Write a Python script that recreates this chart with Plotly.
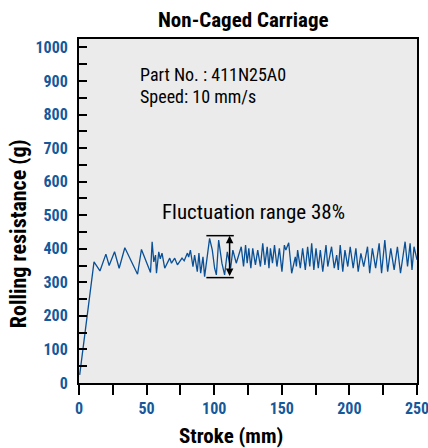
import plotly.graph_objects as go

# ---- data ----
stroke_mm = [
    0.5, 11.1, 15.5, 19.9, 22.3, 26.3, 29.7, 33.9, 43.3, 46.2, 52.9, 54.1, 55.3, 56.6,
    57.3, 59.0, 60.1, 61.4, 63.4, 67.1, 68.4, 70.8, 72.8, 76.2, 77.8, 80.2, 81.1, 82.4,
    84.3, 85.5, 87.5, 88.7, 90.0, 91.7, 92.9, 95.4, 96.6, 98.6, 100.3, 101.6, 103.3,
    105.7, 107.7, 109.7, 112.1, 113.8, 116.3,
    120.0, 121.7, 123.2, 124.4, 125.6, 127.1, 128.5, 130.5, 132.2, 134.2, 135.9, 137.5,
    139.2, 140.5, 141.6, 143.1, 144.6, 146.4, 148.2, 150.1, 151.9, 153.0, 155.1, 157.3,
    160.0, 160.8, 161.7, 163.7, 165.4, 167.4, 169.1, 170.7, 172.1, 173.7, 175.3, 177.0,
    178.5, 180.3, 182.7, 184.0, 186.8, 188.8, 190.6, 191.8, 193.2, 195.1, 196.7, 198.8,
    200.6, 202.8, 204.8, 206.5, 208.5, 210.6, 213.4, 215.0, 217.0, 219.4, 222.0, 223.8,
    226.2, 228.3, 230.6, 233.1, 235.5, 237.8, 241.2, 243.0, 244.9, 246.3, 247.8, 250.0,
]
resistance_g = [
    24, 361, 334, 384, 350, 391, 342, 403, 324, 398, 329, 421, 361, 381,
    327, 391, 370, 387, 342, 372, 357, 372, 352, 372, 364, 387, 375, 396,
    347, 381, 332, 387, 327, 376, 317, 396, 431, 396, 342, 322, 426,
    357, 322, 391, 342, 396, 357,
    406, 347, 411, 357, 401, 342, 401, 352, 396, 347, 416, 352,
    406, 342, 401, 357, 411, 347, 401, 332, 411, 396, 418, 327,
    376, 347, 396, 342, 401, 337, 406, 347, 416, 337, 401, 342,
    396, 332, 411, 347, 406, 342, 381, 337, 411, 332, 396, 347,
    406, 342, 401, 332, 386, 347, 406, 327, 401, 342, 416, 327,
    426, 332, 401, 337, 406, 327, 421, 347, 416, 337, 406, 367,
]

y_tick_values = list(range(0, 1001, 50))
y_tick_labels = [str(v) if v % 100 == 0 else "" for v in y_tick_values]
x_tick_values = list(range(0, 251, 25))
x_tick_labels = [str(v) if v % 50 == 0 else "" for v in x_tick_values]

fluct_top = 439
fluct_bottom = 314
fluct_x0 = 94.2
fluct_x1 = 114.5
fluct_arrow_x = 111.4

FONT = "Liberation Sans Narrow, Roboto Condensed, Arial Narrow, Liberation Sans, sans-serif"
BLUE = "#15599b"
LINE = "#0a5096"

fig = go.Figure()
fig.add_trace(go.Scatter(
    x=stroke_mm, y=resistance_g, mode="lines",
    line=dict(color=LINE, width=1.3), hoverinfo="skip", showlegend=False,
))

# fluctuation range markers
for yv in (fluct_top, fluct_bottom):
    fig.add_shape(type="line", xref="x", yref="y", x0=fluct_x0, x1=fluct_x1,
                  y0=yv, y1=yv, line=dict(color="black", width=1.5))
fig.add_annotation(x=fluct_arrow_x, y=fluct_top, ax=fluct_arrow_x, ay=fluct_bottom,
                   xref="x", yref="y", axref="x", ayref="y", text="",
                   showarrow=True, arrowhead=2, startarrowhead=2, arrowside="end+start",
                   arrowsize=1, arrowwidth=1.5, arrowcolor="black",
                   startstandoff=0, standoff=0)

def label(text, x, y, size, xanchor="center", bold=False, angle=0):
    fig.add_annotation(x=x, y=y, xref="paper", yref="paper", xanchor=xanchor,
                       yanchor="middle", textangle=angle,
                       text=f"<b>{text}</b>" if bold else text, showarrow=False,
                       font=dict(family=FONT, size=size, color="black"))

label("Fluctuation range 38%", 0.516, 0.497, 21)
label("Part No. : 411N25A0", 0.174, 0.898, 18, xanchor="left")
label("Speed: 10 mm/s", 0.174, 0.834, 18, xanchor="left")
label("Non-Caged Carriage", 0.487, 1.055, 21, bold=True)
label("Stroke (mm)", 0.451, -0.154, 21, bold=True)
label("Rolling resistance (g)", -0.18, 0.433, 22, bold=True, angle=-90)

fig.update_layout(
    width=428, height=448,
    margin=dict(l=79, r=11, t=39, b=65, autoexpand=False),
    paper_bgcolor="white", plot_bgcolor="#ebebeb",
    showlegend=False,
)
fig.update_xaxes(
    range=[0, 250], tickmode="array", tickvals=x_tick_values, ticktext=x_tick_labels,
    ticks="outside", ticklen=10, tickwidth=1.5, tickcolor="black",
    showline=True, linecolor="black", linewidth=2, mirror=True,
    showgrid=False, zeroline=False, ticklabeloverflow="allow", automargin=False,
    tickfont=dict(family=FONT, size=16, color=BLUE, weight="bold"),
)
fig.update_yaxes(
    range=[0, 1025], tickmode="array", tickvals=y_tick_values, ticktext=y_tick_labels,
    ticks="inside", ticklen=8, tickwidth=1.5, tickcolor="black",
    showline=True, linecolor="black", linewidth=2, mirror=True,
    showgrid=False, zeroline=False, ticklabelstandoff=6, ticklabeloverflow="allow",
    automargin=False,
    tickfont=dict(family=FONT, size=16, color=BLUE, weight="bold"),
)

fig.write_html(
    "out.html",
    config={"displayModeBar": False},
    post_script="document.body.style.margin='0';document.body.style.overflow='hidden';",
)
